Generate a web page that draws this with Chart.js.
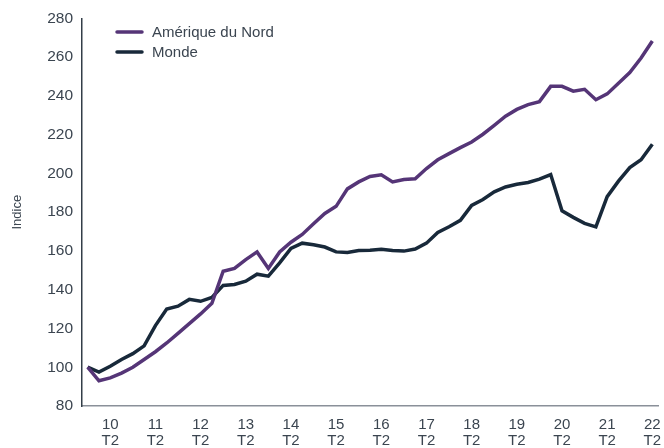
<!DOCTYPE html>
<html>
<head>
<meta charset="utf-8">
<script src="https://cdn.jsdelivr.net/npm/chart.js@4"></script>
<style>
  html, body { margin: 0; padding: 0; background: #fff; }
  #wrap { width: 664px; height: 448px; }
</style>
</head>
<body>
<div id="wrap"><canvas id="chartContainer"></canvas></div>
<script>
var quarters = [
    '09 T4',
    '10 T1', '10 T2', '10 T3', '10 T4',
    '11 T1', '11 T2', '11 T3', '11 T4',
    '12 T1', '12 T2', '12 T3', '12 T4',
    '13 T1', '13 T2', '13 T3', '13 T4',
    '14 T1', '14 T2', '14 T3', '14 T4',
    '15 T1', '15 T2', '15 T3', '15 T4',
    '16 T1', '16 T2', '16 T3', '16 T4',
    '17 T1', '17 T2', '17 T3', '17 T4',
    '18 T1', '18 T2', '18 T3', '18 T4',
    '19 T1', '19 T2', '19 T3', '19 T4',
    '20 T1', '20 T2', '20 T3', '20 T4',
    '21 T1', '21 T2', '21 T3', '21 T4',
    '22 T1', '22 T2'
];

var ameriqueNord = [
    100, 93, 94.5, 97, 100, 104, 108, 112.5, 117.5, 122.5, 127.5, 133,
    149.5, 151, 155.5, 159.5, 151, 159.5, 164.5, 168.5, 174, 179.3, 183,
    192, 195.6, 198.4, 199.3, 195.6, 196.8, 197.2, 202.5, 207, 210.2, 213.3,
    216.2, 220.2, 224.8, 229.5, 233, 235.5, 237, 244.9, 244.9, 242.4, 243.4,
    238, 241, 246.5, 252, 259.5, 268.3
];

var monde = [
    100, 97.5, 100.5, 104, 107, 111, 121.5, 130, 131.5, 135, 134, 136,
    142.2, 142.7, 144.4, 148, 147, 153.8, 161.3, 164, 163.2, 162, 159.5,
    159.2, 160.2, 160.4, 160.8, 160.2, 159.9, 161, 164, 169.5, 172.5, 175.8,
    183.5, 186.5, 190.5, 193, 194.4, 195.3, 197, 199.4, 180.7, 177.3, 174.2,
    172.4, 188, 196, 203, 207, 215
];

var textColor = '#3b4550';
var fontFamily = '"Liberation Sans", Arial, sans-serif';

// legend drawn inside the plot area, top-left
var innerLegend = {
    id: 'innerLegend',
    afterDraw: function (chart) {
        var ctx = chart.ctx;
        ctx.save();
        chart.data.datasets.forEach(function (ds, i) {
            var y = 32 + i * 20;
            ctx.strokeStyle = ds.borderColor;
            ctx.lineWidth = 3.5;
            ctx.lineCap = 'round';
            ctx.beginPath();
            ctx.moveTo(117, y);
            ctx.lineTo(142, y);
            ctx.stroke();
            ctx.fillStyle = textColor;
            ctx.font = '15px ' + fontFamily;
            ctx.textBaseline = 'middle';
            ctx.fillText(ds.label, 152, y + 1);
        });
        ctx.restore();
    }
};

var options = {
    type: 'line',
    data: {
        labels: quarters,
        datasets: [{
            label: 'Amérique du Nord',
            borderColor: '#553577',
            backgroundColor: '#553577',
            borderWidth: 3.5,
            pointRadius: 0,
            tension: 0,
            data: ameriqueNord
        }, {
            label: 'Monde',
            borderColor: '#18293a',
            backgroundColor: '#18293a',
            borderWidth: 3.5,
            pointRadius: 0,
            tension: 0,
            data: monde
        }]
    },
    options: {
        responsive: true,
        maintainAspectRatio: false,
        animation: false,
        layout: { padding: { top: 18, right: 0, left: 0, bottom: 0 } },
        plugins: {
            legend: { display: false },
            tooltip: { enabled: false }
        },
        scales: {
            x: {
                offset: true,
                grid: { display: false, drawTicks: false },
                border: { display: true, color: '#8a9099', width: 1.5 },
                afterFit: function (scale) {
                    scale.height = 42;
                    scale.paddingRight = 6;
                },
                ticks: {
                    autoSkip: false,
                    maxRotation: 0,
                    padding: 11,
                    color: textColor,
                    font: { family: fontFamily, size: 15, lineHeight: 1.08 },
                    callback: function (value, index) {
                        var q = quarters[index].split(' ');
                        return q[1] === 'T2' ? [q[0], q[1]] : null;
                    }
                }
            },
            y: {
                min: 80,
                max: 280,
                grid: { display: false, drawTicks: false },
                border: { display: true, color: '#333e48', width: 1.5 },
                afterFit: function (scale) { scale.width = 82; },
                ticks: {
                    stepSize: 20,
                    padding: 9,
                    color: textColor,
                    font: { family: fontFamily, size: 15.5 }
                },
                title: {
                    display: true,
                    text: 'Indice',
                    color: textColor,
                    font: { family: fontFamily, size: 13 },
                    padding: { top: 10, bottom: 0 }
                }
            }
        }
    },
    plugins: [innerLegend]
};

var ctx = document.getElementById('chartContainer').getContext('2d');
new Chart(ctx, options);
</script>
</body>
</html>
